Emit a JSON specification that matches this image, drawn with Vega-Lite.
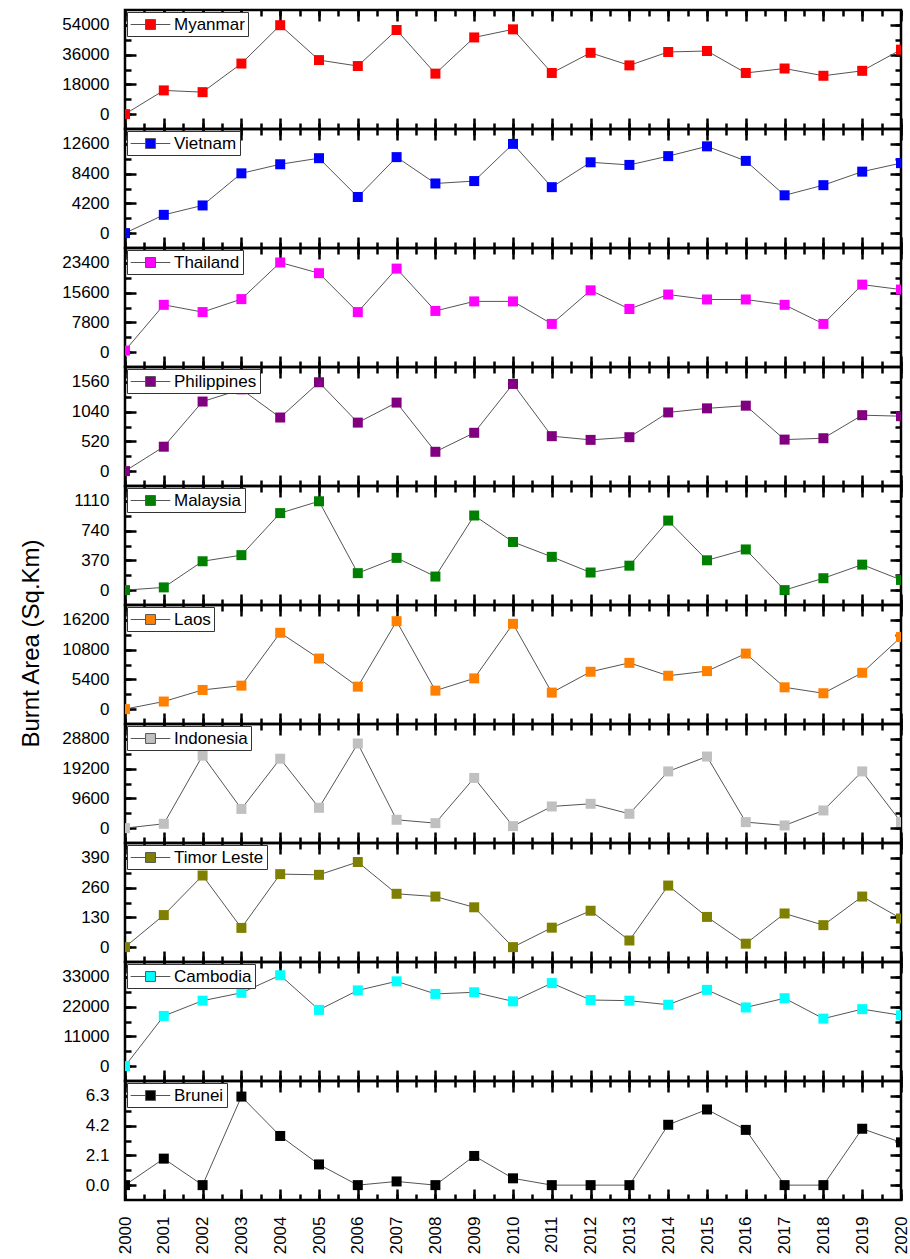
{
"$schema": "https://vega.github.io/schema/vega-lite/v6.json",
"padding": {"left": 18, "top": 7, "right": 5, "bottom": 4},
"autosize": {"type": "pad"},
"bounds": "flush",
"spacing": 0,
"data": {"values": [
{"country":"Myanmar","year":2000,"value":0},{"country":"Myanmar","year":2001,"value":14350},{"country":"Myanmar","year":2002,"value":13300},{"country":"Myanmar","year":2003,"value":30600},{"country":"Myanmar","year":2004,"value":53800},{"country":"Myanmar","year":2005,"value":32700},{"country":"Myanmar","year":2006,"value":29100},{"country":"Myanmar","year":2007,"value":50900},{"country":"Myanmar","year":2008,"value":24500},{"country":"Myanmar","year":2009,"value":46400},{"country":"Myanmar","year":2010,"value":51300},{"country":"Myanmar","year":2011,"value":24900},{"country":"Myanmar","year":2012,"value":37100},{"country":"Myanmar","year":2013,"value":29500},{"country":"Myanmar","year":2014,"value":37600},{"country":"Myanmar","year":2015,"value":38200},{"country":"Myanmar","year":2016,"value":24900},{"country":"Myanmar","year":2017,"value":27600},{"country":"Myanmar","year":2018,"value":23200},{"country":"Myanmar","year":2019,"value":26200},{"country":"Myanmar","year":2020,"value":39000},
{"country":"Vietnam","year":2000,"value":0},{"country":"Vietnam","year":2001,"value":2580},{"country":"Vietnam","year":2002,"value":3910},{"country":"Vietnam","year":2003,"value":8440},{"country":"Vietnam","year":2004,"value":9720},{"country":"Vietnam","year":2005,"value":10580},{"country":"Vietnam","year":2006,"value":5100},{"country":"Vietnam","year":2007,"value":10730},{"country":"Vietnam","year":2008,"value":7010},{"country":"Vietnam","year":2009,"value":7350},{"country":"Vietnam","year":2010,"value":12600},{"country":"Vietnam","year":2011,"value":6490},{"country":"Vietnam","year":2012,"value":10000},{"country":"Vietnam","year":2013,"value":9630},{"country":"Vietnam","year":2014,"value":10870},{"country":"Vietnam","year":2015,"value":12250},{"country":"Vietnam","year":2016,"value":10200},{"country":"Vietnam","year":2017,"value":5340},{"country":"Vietnam","year":2018,"value":6770},{"country":"Vietnam","year":2019,"value":8680},{"country":"Vietnam","year":2020,"value":9880},
{"country":"Thailand","year":2000,"value":400},{"country":"Thailand","year":2001,"value":12400},{"country":"Thailand","year":2002,"value":10500},{"country":"Thailand","year":2003,"value":13900},{"country":"Thailand","year":2004,"value":23500},{"country":"Thailand","year":2005,"value":20700},{"country":"Thailand","year":2006,"value":10500},{"country":"Thailand","year":2007,"value":21900},{"country":"Thailand","year":2008,"value":10800},{"country":"Thailand","year":2009,"value":13300},{"country":"Thailand","year":2010,"value":13300},{"country":"Thailand","year":2011,"value":7400},{"country":"Thailand","year":2012,"value":16200},{"country":"Thailand","year":2013,"value":11300},{"country":"Thailand","year":2014,"value":15100},{"country":"Thailand","year":2015,"value":13800},{"country":"Thailand","year":2016,"value":13800},{"country":"Thailand","year":2017,"value":12400},{"country":"Thailand","year":2018,"value":7400},{"country":"Thailand","year":2019,"value":17700},{"country":"Thailand","year":2020,"value":16400},
{"country":"Philippines","year":2000,"value":0},{"country":"Philippines","year":2001,"value":427},{"country":"Philippines","year":2002,"value":1216},{"country":"Philippines","year":2003,"value":1430},{"country":"Philippines","year":2004,"value":937},{"country":"Philippines","year":2005,"value":1553},{"country":"Philippines","year":2006,"value":848},{"country":"Philippines","year":2007,"value":1198},{"country":"Philippines","year":2008,"value":338},{"country":"Philippines","year":2009,"value":670},{"country":"Philippines","year":2010,"value":1524},{"country":"Philippines","year":2011,"value":611},{"country":"Philippines","year":2012,"value":546},{"country":"Philippines","year":2013,"value":593},{"country":"Philippines","year":2014,"value":1026},{"country":"Philippines","year":2015,"value":1097},{"country":"Philippines","year":2016,"value":1144},{"country":"Philippines","year":2017,"value":551},{"country":"Philippines","year":2018,"value":575},{"country":"Philippines","year":2019,"value":978},{"country":"Philippines","year":2020,"value":960},
{"country":"Malaysia","year":2000,"value":0},{"country":"Malaysia","year":2001,"value":34},{"country":"Malaysia","year":2002,"value":359},{"country":"Malaysia","year":2003,"value":435},{"country":"Malaysia","year":2004,"value":958},{"country":"Malaysia","year":2005,"value":1105},{"country":"Malaysia","year":2006,"value":211},{"country":"Malaysia","year":2007,"value":401},{"country":"Malaysia","year":2008,"value":169},{"country":"Malaysia","year":2009,"value":928},{"country":"Malaysia","year":2010,"value":599},{"country":"Malaysia","year":2011,"value":414},{"country":"Malaysia","year":2012,"value":219},{"country":"Malaysia","year":2013,"value":304},{"country":"Malaysia","year":2014,"value":865},{"country":"Malaysia","year":2015,"value":371},{"country":"Malaysia","year":2016,"value":506},{"country":"Malaysia","year":2017,"value":0},{"country":"Malaysia","year":2018,"value":148},{"country":"Malaysia","year":2019,"value":317},{"country":"Malaysia","year":2020,"value":127},
{"country":"Laos","year":2000,"value":0},{"country":"Laos","year":2001,"value":1380},{"country":"Laos","year":2002,"value":3480},{"country":"Laos","year":2003,"value":4260},{"country":"Laos","year":2004,"value":13860},{"country":"Laos","year":2005,"value":9180},{"country":"Laos","year":2006,"value":4080},{"country":"Laos","year":2007,"value":15960},{"country":"Laos","year":2008,"value":3360},{"country":"Laos","year":2009,"value":5580},{"country":"Laos","year":2010,"value":15480},{"country":"Laos","year":2011,"value":3000},{"country":"Laos","year":2012,"value":6780},{"country":"Laos","year":2013,"value":8400},{"country":"Laos","year":2014,"value":6060},{"country":"Laos","year":2015,"value":6900},{"country":"Laos","year":2016,"value":10080},{"country":"Laos","year":2017,"value":3960},{"country":"Laos","year":2018,"value":2880},{"country":"Laos","year":2019,"value":6600},{"country":"Laos","year":2020,"value":13080},
{"country":"Indonesia","year":2000,"value":0},{"country":"Indonesia","year":2001,"value":1400},{"country":"Indonesia","year":2002,"value":23400},{"country":"Indonesia","year":2003,"value":6200},{"country":"Indonesia","year":2004,"value":22400},{"country":"Indonesia","year":2005,"value":6560},{"country":"Indonesia","year":2006,"value":27300},{"country":"Indonesia","year":2007,"value":2690},{"country":"Indonesia","year":2008,"value":1610},{"country":"Indonesia","year":2009,"value":16200},{"country":"Indonesia","year":2010,"value":650},{"country":"Indonesia","year":2011,"value":6990},{"country":"Indonesia","year":2012,"value":7850},{"country":"Indonesia","year":2013,"value":4620},{"country":"Indonesia","year":2014,"value":18300},{"country":"Indonesia","year":2015,"value":23100},{"country":"Indonesia","year":2016,"value":1940},{"country":"Indonesia","year":2017,"value":860},{"country":"Indonesia","year":2018,"value":5700},{"country":"Indonesia","year":2019,"value":18300},{"country":"Indonesia","year":2020,"value":1940},
{"country":"Timor Leste","year":2000,"value":0},{"country":"Timor Leste","year":2001,"value":140},{"country":"Timor Leste","year":2002,"value":313},{"country":"Timor Leste","year":2003,"value":84},{"country":"Timor Leste","year":2004,"value":319},{"country":"Timor Leste","year":2005,"value":316},{"country":"Timor Leste","year":2006,"value":372},{"country":"Timor Leste","year":2007,"value":233},{"country":"Timor Leste","year":2008,"value":221},{"country":"Timor Leste","year":2009,"value":174},{"country":"Timor Leste","year":2010,"value":0},{"country":"Timor Leste","year":2011,"value":85},{"country":"Timor Leste","year":2012,"value":159},{"country":"Timor Leste","year":2013,"value":29},{"country":"Timor Leste","year":2014,"value":269},{"country":"Timor Leste","year":2015,"value":132},{"country":"Timor Leste","year":2016,"value":15},{"country":"Timor Leste","year":2017,"value":147},{"country":"Timor Leste","year":2018,"value":96},{"country":"Timor Leste","year":2019,"value":221},{"country":"Timor Leste","year":2020,"value":125},
{"country":"Cambodia","year":2000,"value":0},{"country":"Cambodia","year":2001,"value":18560},{"country":"Cambodia","year":2002,"value":24200},{"country":"Cambodia","year":2003,"value":27100},{"country":"Cambodia","year":2004,"value":33600},{"country":"Cambodia","year":2005,"value":20800},{"country":"Cambodia","year":2006,"value":28000},{"country":"Cambodia","year":2007,"value":31350},{"country":"Cambodia","year":2008,"value":26700},{"country":"Cambodia","year":2009,"value":27300},{"country":"Cambodia","year":2010,"value":23950},{"country":"Cambodia","year":2011,"value":30700},{"country":"Cambodia","year":2012,"value":24450},{"country":"Cambodia","year":2013,"value":24200},{"country":"Cambodia","year":2014,"value":22700},{"country":"Cambodia","year":2015,"value":28200},{"country":"Cambodia","year":2016,"value":21700},{"country":"Cambodia","year":2017,"value":25100},{"country":"Cambodia","year":2018,"value":17560},{"country":"Cambodia","year":2019,"value":21070},{"country":"Cambodia","year":2020,"value":18800},
{"country":"Brunei","year":2000,"value":0},{"country":"Brunei","year":2001,"value":1.87},{"country":"Brunei","year":2002,"value":0},{"country":"Brunei","year":2003,"value":6.25},{"country":"Brunei","year":2004,"value":3.47},{"country":"Brunei","year":2005,"value":1.46},{"country":"Brunei","year":2006,"value":0},{"country":"Brunei","year":2007,"value":0.26},{"country":"Brunei","year":2008,"value":0},{"country":"Brunei","year":2009,"value":2.06},{"country":"Brunei","year":2010,"value":0.48},{"country":"Brunei","year":2011,"value":0},{"country":"Brunei","year":2012,"value":0},{"country":"Brunei","year":2013,"value":0},{"country":"Brunei","year":2014,"value":4.26},{"country":"Brunei","year":2015,"value":5.34},{"country":"Brunei","year":2016,"value":3.9},{"country":"Brunei","year":2017,"value":0},{"country":"Brunei","year":2018,"value":0},{"country":"Brunei","year":2019,"value":3.98},{"country":"Brunei","year":2020,"value":3.02}
]},
"vconcat": [
{"width": 776, "height": 119, "transform": [{"filter": "datum.country === 'Myanmar'"}],
 "layer": [
  {"mark": {"type": "line", "color": "#555555", "strokeWidth": 1, "clip": true},
   "encoding": {
    "x": {"field": "year", "type": "quantitative", "scale": {"domain": [2000, 2020], "nice": false, "zero": false}, "axis": {"orient": "bottom", "tickCount": 20, "title": null, "ticks": true, "tickColor": "#000000", "tickWidth": 2.5}},
    "y": {"field": "value", "type": "quantitative", "scale": {"domain": [-9000, 63000], "nice": false, "zero": false}, "axis": {"orient": "left", "values": [0, 18000, 36000, 54000], "title": null, "labels": true, "format": "d", "ticks": true, "tickColor": "#000000", "tickWidth": 2.5}}}},
  {"mark": {"type": "point", "shape": "square", "filled": true, "size": 100, "opacity": 1, "clip": true},
   "encoding": {
    "x": {"field": "year", "type": "quantitative", "axis": {"orient": "top", "tickCount": 20, "title": null, "ticks": true, "tickColor": "#000000", "tickWidth": 2.5}},
    "y": {"field": "value", "type": "quantitative", "axis": {"orient": "right", "values": [0, 18000, 36000, 54000], "title": null, "ticks": true, "tickColor": "#000000", "tickWidth": 2.5}},
    "color": {"field": "country", "type": "nominal", "scale": {"domain": ["Myanmar"], "range": ["#ff0000"]}, "legend": {"title": null}}}},
  {"mark": {"type": "point", "opacity": 0},
   "encoding": {
    "x": {"field": "year", "type": "quantitative", "axis": {"orient": "bottom", "tickCount": 40, "title": null, "ticks": true, "tickColor": "#000000", "tickWidth": 2.5, "style": "minor"}},
    "y": {"field": "value", "type": "quantitative", "axis": {"orient": "left", "values": [0, 9000, 18000, 27000, 36000, 45000, 54000], "title": null, "ticks": true, "tickColor": "#000000", "tickWidth": 2.5, "style": "minor"}}}},
  {"mark": {"type": "point", "opacity": 0},
   "encoding": {
    "x": {"field": "year", "type": "quantitative", "axis": {"orient": "top", "tickCount": 40, "title": null, "ticks": true, "tickColor": "#000000", "tickWidth": 2.5, "style": "minor"}},
    "y": {"field": "value", "type": "quantitative", "axis": {"orient": "right", "values": [0, 9000, 18000, 27000, 36000, 45000, 54000], "title": null, "ticks": true, "tickColor": "#000000", "tickWidth": 2.5, "style": "minor"}}}}
 ],
 "resolve": {"axis": {"x": "independent", "y": "independent"}}
},
{"width": 776, "height": 119, "transform": [{"filter": "datum.country === 'Vietnam'"}],
 "layer": [
  {"mark": {"type": "line", "color": "#555555", "strokeWidth": 1, "clip": true},
   "encoding": {
    "x": {"field": "year", "type": "quantitative", "scale": {"domain": [2000, 2020], "nice": false, "zero": false}, "axis": {"orient": "bottom", "tickCount": 20, "title": null, "ticks": true, "tickColor": "#000000", "tickWidth": 2.5}},
    "y": {"field": "value", "type": "quantitative", "scale": {"domain": [-2100, 14700], "nice": false, "zero": false}, "axis": {"orient": "left", "values": [0, 4200, 8400, 12600], "title": null, "labels": true, "format": "d", "ticks": true, "tickColor": "#000000", "tickWidth": 2.5}}}},
  {"mark": {"type": "point", "shape": "square", "filled": true, "size": 100, "opacity": 1, "clip": true},
   "encoding": {
    "x": {"field": "year", "type": "quantitative", "axis": {"orient": "top", "tickCount": 20, "title": null, "ticks": true, "tickColor": "#000000", "tickWidth": 2.5}},
    "y": {"field": "value", "type": "quantitative", "axis": {"orient": "right", "values": [0, 4200, 8400, 12600], "title": null, "ticks": true, "tickColor": "#000000", "tickWidth": 2.5}},
    "color": {"field": "country", "type": "nominal", "scale": {"domain": ["Vietnam"], "range": ["#0000ff"]}, "legend": {"title": null}}}},
  {"mark": {"type": "point", "opacity": 0},
   "encoding": {
    "x": {"field": "year", "type": "quantitative", "axis": {"orient": "bottom", "tickCount": 40, "title": null, "ticks": true, "tickColor": "#000000", "tickWidth": 2.5, "style": "minor"}},
    "y": {"field": "value", "type": "quantitative", "axis": {"orient": "left", "values": [0, 2100, 4200, 6300, 8400, 10500, 12600], "title": null, "ticks": true, "tickColor": "#000000", "tickWidth": 2.5, "style": "minor"}}}},
  {"mark": {"type": "point", "opacity": 0},
   "encoding": {
    "x": {"field": "year", "type": "quantitative", "axis": {"orient": "top", "tickCount": 40, "title": null, "ticks": true, "tickColor": "#000000", "tickWidth": 2.5, "style": "minor"}},
    "y": {"field": "value", "type": "quantitative", "axis": {"orient": "right", "values": [0, 2100, 4200, 6300, 8400, 10500, 12600], "title": null, "ticks": true, "tickColor": "#000000", "tickWidth": 2.5, "style": "minor"}}}}
 ],
 "resolve": {"axis": {"x": "independent", "y": "independent"}}
},
{"width": 776, "height": 119, "transform": [{"filter": "datum.country === 'Thailand'"}],
 "layer": [
  {"mark": {"type": "line", "color": "#555555", "strokeWidth": 1, "clip": true},
   "encoding": {
    "x": {"field": "year", "type": "quantitative", "scale": {"domain": [2000, 2020], "nice": false, "zero": false}, "axis": {"orient": "bottom", "tickCount": 20, "title": null, "ticks": true, "tickColor": "#000000", "tickWidth": 2.5}},
    "y": {"field": "value", "type": "quantitative", "scale": {"domain": [-3900, 27300], "nice": false, "zero": false}, "axis": {"orient": "left", "values": [0, 7800, 15600, 23400], "title": null, "labels": true, "format": "d", "ticks": true, "tickColor": "#000000", "tickWidth": 2.5}}}},
  {"mark": {"type": "point", "shape": "square", "filled": true, "size": 100, "opacity": 1, "clip": true},
   "encoding": {
    "x": {"field": "year", "type": "quantitative", "axis": {"orient": "top", "tickCount": 20, "title": null, "ticks": true, "tickColor": "#000000", "tickWidth": 2.5}},
    "y": {"field": "value", "type": "quantitative", "axis": {"orient": "right", "values": [0, 7800, 15600, 23400], "title": null, "ticks": true, "tickColor": "#000000", "tickWidth": 2.5}},
    "color": {"field": "country", "type": "nominal", "scale": {"domain": ["Thailand"], "range": ["#ff00ff"]}, "legend": {"title": null}}}},
  {"mark": {"type": "point", "opacity": 0},
   "encoding": {
    "x": {"field": "year", "type": "quantitative", "axis": {"orient": "bottom", "tickCount": 40, "title": null, "ticks": true, "tickColor": "#000000", "tickWidth": 2.5, "style": "minor"}},
    "y": {"field": "value", "type": "quantitative", "axis": {"orient": "left", "values": [0, 3900, 7800, 11700, 15600, 19500, 23400], "title": null, "ticks": true, "tickColor": "#000000", "tickWidth": 2.5, "style": "minor"}}}},
  {"mark": {"type": "point", "opacity": 0},
   "encoding": {
    "x": {"field": "year", "type": "quantitative", "axis": {"orient": "top", "tickCount": 40, "title": null, "ticks": true, "tickColor": "#000000", "tickWidth": 2.5, "style": "minor"}},
    "y": {"field": "value", "type": "quantitative", "axis": {"orient": "right", "values": [0, 3900, 7800, 11700, 15600, 19500, 23400], "title": null, "ticks": true, "tickColor": "#000000", "tickWidth": 2.5, "style": "minor"}}}}
 ],
 "resolve": {"axis": {"x": "independent", "y": "independent"}}
},
{"width": 776, "height": 119, "transform": [{"filter": "datum.country === 'Philippines'"}],
 "layer": [
  {"mark": {"type": "line", "color": "#555555", "strokeWidth": 1, "clip": true},
   "encoding": {
    "x": {"field": "year", "type": "quantitative", "scale": {"domain": [2000, 2020], "nice": false, "zero": false}, "axis": {"orient": "bottom", "tickCount": 20, "title": null, "ticks": true, "tickColor": "#000000", "tickWidth": 2.5}},
    "y": {"field": "value", "type": "quantitative", "scale": {"domain": [-260, 1820], "nice": false, "zero": false}, "axis": {"orient": "left", "values": [0, 520, 1040, 1560], "title": null, "labels": true, "format": "d", "ticks": true, "tickColor": "#000000", "tickWidth": 2.5}}}},
  {"mark": {"type": "point", "shape": "square", "filled": true, "size": 100, "opacity": 1, "clip": true},
   "encoding": {
    "x": {"field": "year", "type": "quantitative", "axis": {"orient": "top", "tickCount": 20, "title": null, "ticks": true, "tickColor": "#000000", "tickWidth": 2.5}},
    "y": {"field": "value", "type": "quantitative", "axis": {"orient": "right", "values": [0, 520, 1040, 1560], "title": null, "ticks": true, "tickColor": "#000000", "tickWidth": 2.5}},
    "color": {"field": "country", "type": "nominal", "scale": {"domain": ["Philippines"], "range": ["#800080"]}, "legend": {"title": null}}}},
  {"mark": {"type": "point", "opacity": 0},
   "encoding": {
    "x": {"field": "year", "type": "quantitative", "axis": {"orient": "bottom", "tickCount": 40, "title": null, "ticks": true, "tickColor": "#000000", "tickWidth": 2.5, "style": "minor"}},
    "y": {"field": "value", "type": "quantitative", "axis": {"orient": "left", "values": [0, 260, 520, 780, 1040, 1300, 1560], "title": null, "ticks": true, "tickColor": "#000000", "tickWidth": 2.5, "style": "minor"}}}},
  {"mark": {"type": "point", "opacity": 0},
   "encoding": {
    "x": {"field": "year", "type": "quantitative", "axis": {"orient": "top", "tickCount": 40, "title": null, "ticks": true, "tickColor": "#000000", "tickWidth": 2.5, "style": "minor"}},
    "y": {"field": "value", "type": "quantitative", "axis": {"orient": "right", "values": [0, 260, 520, 780, 1040, 1300, 1560], "title": null, "ticks": true, "tickColor": "#000000", "tickWidth": 2.5, "style": "minor"}}}}
 ],
 "resolve": {"axis": {"x": "independent", "y": "independent"}}
},
{"width": 776, "height": 119, "transform": [{"filter": "datum.country === 'Malaysia'"}],
 "layer": [
  {"mark": {"type": "line", "color": "#555555", "strokeWidth": 1, "clip": true},
   "encoding": {
    "x": {"field": "year", "type": "quantitative", "scale": {"domain": [2000, 2020], "nice": false, "zero": false}, "axis": {"orient": "bottom", "tickCount": 20, "title": null, "ticks": true, "tickColor": "#000000", "tickWidth": 2.5}},
    "y": {"field": "value", "type": "quantitative", "scale": {"domain": [-185, 1295], "nice": false, "zero": false}, "axis": {"orient": "left", "values": [0, 370, 740, 1110], "title": null, "labels": true, "format": "d", "ticks": true, "tickColor": "#000000", "tickWidth": 2.5}}}},
  {"mark": {"type": "point", "shape": "square", "filled": true, "size": 100, "opacity": 1, "clip": true},
   "encoding": {
    "x": {"field": "year", "type": "quantitative", "axis": {"orient": "top", "tickCount": 20, "title": null, "ticks": true, "tickColor": "#000000", "tickWidth": 2.5}},
    "y": {"field": "value", "type": "quantitative", "axis": {"orient": "right", "values": [0, 370, 740, 1110], "title": null, "ticks": true, "tickColor": "#000000", "tickWidth": 2.5}},
    "color": {"field": "country", "type": "nominal", "scale": {"domain": ["Malaysia"], "range": ["#008000"]}, "legend": {"title": null}}}},
  {"mark": {"type": "point", "opacity": 0},
   "encoding": {
    "x": {"field": "year", "type": "quantitative", "axis": {"orient": "bottom", "tickCount": 40, "title": null, "ticks": true, "tickColor": "#000000", "tickWidth": 2.5, "style": "minor"}},
    "y": {"field": "value", "type": "quantitative", "axis": {"orient": "left", "values": [0, 185, 370, 555, 740, 925, 1110], "title": null, "ticks": true, "tickColor": "#000000", "tickWidth": 2.5, "style": "minor"}}}},
  {"mark": {"type": "point", "opacity": 0},
   "encoding": {
    "x": {"field": "year", "type": "quantitative", "axis": {"orient": "top", "tickCount": 40, "title": null, "ticks": true, "tickColor": "#000000", "tickWidth": 2.5, "style": "minor"}},
    "y": {"field": "value", "type": "quantitative", "axis": {"orient": "right", "values": [0, 185, 370, 555, 740, 925, 1110], "title": null, "ticks": true, "tickColor": "#000000", "tickWidth": 2.5, "style": "minor"}}}}
 ],
 "resolve": {"axis": {"x": "independent", "y": "independent"}}
},
{"width": 776, "height": 119, "transform": [{"filter": "datum.country === 'Laos'"}],
 "layer": [
  {"mark": {"type": "line", "color": "#555555", "strokeWidth": 1, "clip": true},
   "encoding": {
    "x": {"field": "year", "type": "quantitative", "scale": {"domain": [2000, 2020], "nice": false, "zero": false}, "axis": {"orient": "bottom", "tickCount": 20, "title": null, "ticks": true, "tickColor": "#000000", "tickWidth": 2.5}},
    "y": {"field": "value", "type": "quantitative", "scale": {"domain": [-2700, 18900], "nice": false, "zero": false}, "axis": {"orient": "left", "values": [0, 5400, 10800, 16200], "labels": true, "format": "d", "ticks": true, "tickColor": "#000000", "tickWidth": 2.5, "title": "Burnt Area (Sq.Km)", "titleY": 38, "titleFontSize": 24, "titleFontWeight": "normal", "titlePadding": 18}}}},
  {"mark": {"type": "point", "shape": "square", "filled": true, "size": 100, "opacity": 1, "clip": true},
   "encoding": {
    "x": {"field": "year", "type": "quantitative", "axis": {"orient": "top", "tickCount": 20, "title": null, "ticks": true, "tickColor": "#000000", "tickWidth": 2.5}},
    "y": {"field": "value", "type": "quantitative", "axis": {"orient": "right", "values": [0, 5400, 10800, 16200], "title": null, "ticks": true, "tickColor": "#000000", "tickWidth": 2.5}},
    "color": {"field": "country", "type": "nominal", "scale": {"domain": ["Laos"], "range": ["#ff8000"]}, "legend": {"title": null}}}},
  {"mark": {"type": "point", "opacity": 0},
   "encoding": {
    "x": {"field": "year", "type": "quantitative", "axis": {"orient": "bottom", "tickCount": 40, "title": null, "ticks": true, "tickColor": "#000000", "tickWidth": 2.5, "style": "minor"}},
    "y": {"field": "value", "type": "quantitative", "axis": {"orient": "left", "values": [0, 2700, 5400, 8100, 10800, 13500, 16200], "title": null, "ticks": true, "tickColor": "#000000", "tickWidth": 2.5, "style": "minor"}}}},
  {"mark": {"type": "point", "opacity": 0},
   "encoding": {
    "x": {"field": "year", "type": "quantitative", "axis": {"orient": "top", "tickCount": 40, "title": null, "ticks": true, "tickColor": "#000000", "tickWidth": 2.5, "style": "minor"}},
    "y": {"field": "value", "type": "quantitative", "axis": {"orient": "right", "values": [0, 2700, 5400, 8100, 10800, 13500, 16200], "title": null, "ticks": true, "tickColor": "#000000", "tickWidth": 2.5, "style": "minor"}}}}
 ],
 "resolve": {"axis": {"x": "independent", "y": "independent"}}
},
{"width": 776, "height": 119, "transform": [{"filter": "datum.country === 'Indonesia'"}],
 "layer": [
  {"mark": {"type": "line", "color": "#555555", "strokeWidth": 1, "clip": true},
   "encoding": {
    "x": {"field": "year", "type": "quantitative", "scale": {"domain": [2000, 2020], "nice": false, "zero": false}, "axis": {"orient": "bottom", "tickCount": 20, "title": null, "ticks": true, "tickColor": "#000000", "tickWidth": 2.5}},
    "y": {"field": "value", "type": "quantitative", "scale": {"domain": [-4800, 33600], "nice": false, "zero": false}, "axis": {"orient": "left", "values": [0, 9600, 19200, 28800], "title": null, "labels": true, "format": "d", "ticks": true, "tickColor": "#000000", "tickWidth": 2.5}}}},
  {"mark": {"type": "point", "shape": "square", "filled": true, "size": 100, "opacity": 1, "clip": true},
   "encoding": {
    "x": {"field": "year", "type": "quantitative", "axis": {"orient": "top", "tickCount": 20, "title": null, "ticks": true, "tickColor": "#000000", "tickWidth": 2.5}},
    "y": {"field": "value", "type": "quantitative", "axis": {"orient": "right", "values": [0, 9600, 19200, 28800], "title": null, "ticks": true, "tickColor": "#000000", "tickWidth": 2.5}},
    "color": {"field": "country", "type": "nominal", "scale": {"domain": ["Indonesia"], "range": ["#c0c0c0"]}, "legend": {"title": null}}}},
  {"mark": {"type": "point", "opacity": 0},
   "encoding": {
    "x": {"field": "year", "type": "quantitative", "axis": {"orient": "bottom", "tickCount": 40, "title": null, "ticks": true, "tickColor": "#000000", "tickWidth": 2.5, "style": "minor"}},
    "y": {"field": "value", "type": "quantitative", "axis": {"orient": "left", "values": [0, 4800, 9600, 14400, 19200, 24000, 28800], "title": null, "ticks": true, "tickColor": "#000000", "tickWidth": 2.5, "style": "minor"}}}},
  {"mark": {"type": "point", "opacity": 0},
   "encoding": {
    "x": {"field": "year", "type": "quantitative", "axis": {"orient": "top", "tickCount": 40, "title": null, "ticks": true, "tickColor": "#000000", "tickWidth": 2.5, "style": "minor"}},
    "y": {"field": "value", "type": "quantitative", "axis": {"orient": "right", "values": [0, 4800, 9600, 14400, 19200, 24000, 28800], "title": null, "ticks": true, "tickColor": "#000000", "tickWidth": 2.5, "style": "minor"}}}}
 ],
 "resolve": {"axis": {"x": "independent", "y": "independent"}}
},
{"width": 776, "height": 119, "transform": [{"filter": "datum.country === 'Timor Leste'"}],
 "layer": [
  {"mark": {"type": "line", "color": "#555555", "strokeWidth": 1, "clip": true},
   "encoding": {
    "x": {"field": "year", "type": "quantitative", "scale": {"domain": [2000, 2020], "nice": false, "zero": false}, "axis": {"orient": "bottom", "tickCount": 20, "title": null, "ticks": true, "tickColor": "#000000", "tickWidth": 2.5}},
    "y": {"field": "value", "type": "quantitative", "scale": {"domain": [-65, 455], "nice": false, "zero": false}, "axis": {"orient": "left", "values": [0, 130, 260, 390], "title": null, "labels": true, "format": "d", "ticks": true, "tickColor": "#000000", "tickWidth": 2.5}}}},
  {"mark": {"type": "point", "shape": "square", "filled": true, "size": 100, "opacity": 1, "clip": true},
   "encoding": {
    "x": {"field": "year", "type": "quantitative", "axis": {"orient": "top", "tickCount": 20, "title": null, "ticks": true, "tickColor": "#000000", "tickWidth": 2.5}},
    "y": {"field": "value", "type": "quantitative", "axis": {"orient": "right", "values": [0, 130, 260, 390], "title": null, "ticks": true, "tickColor": "#000000", "tickWidth": 2.5}},
    "color": {"field": "country", "type": "nominal", "scale": {"domain": ["Timor Leste"], "range": ["#808000"]}, "legend": {"title": null}}}},
  {"mark": {"type": "point", "opacity": 0},
   "encoding": {
    "x": {"field": "year", "type": "quantitative", "axis": {"orient": "bottom", "tickCount": 40, "title": null, "ticks": true, "tickColor": "#000000", "tickWidth": 2.5, "style": "minor"}},
    "y": {"field": "value", "type": "quantitative", "axis": {"orient": "left", "values": [0, 65, 130, 195, 260, 325, 390], "title": null, "ticks": true, "tickColor": "#000000", "tickWidth": 2.5, "style": "minor"}}}},
  {"mark": {"type": "point", "opacity": 0},
   "encoding": {
    "x": {"field": "year", "type": "quantitative", "axis": {"orient": "top", "tickCount": 40, "title": null, "ticks": true, "tickColor": "#000000", "tickWidth": 2.5, "style": "minor"}},
    "y": {"field": "value", "type": "quantitative", "axis": {"orient": "right", "values": [0, 65, 130, 195, 260, 325, 390], "title": null, "ticks": true, "tickColor": "#000000", "tickWidth": 2.5, "style": "minor"}}}}
 ],
 "resolve": {"axis": {"x": "independent", "y": "independent"}}
},
{"width": 776, "height": 119, "transform": [{"filter": "datum.country === 'Cambodia'"}],
 "layer": [
  {"mark": {"type": "line", "color": "#555555", "strokeWidth": 1, "clip": true},
   "encoding": {
    "x": {"field": "year", "type": "quantitative", "scale": {"domain": [2000, 2020], "nice": false, "zero": false}, "axis": {"orient": "bottom", "tickCount": 20, "title": null, "ticks": true, "tickColor": "#000000", "tickWidth": 2.5}},
    "y": {"field": "value", "type": "quantitative", "scale": {"domain": [-5500, 38500], "nice": false, "zero": false}, "axis": {"orient": "left", "values": [0, 11000, 22000, 33000], "title": null, "labels": true, "format": "d", "ticks": true, "tickColor": "#000000", "tickWidth": 2.5}}}},
  {"mark": {"type": "point", "shape": "square", "filled": true, "size": 100, "opacity": 1, "clip": true},
   "encoding": {
    "x": {"field": "year", "type": "quantitative", "axis": {"orient": "top", "tickCount": 20, "title": null, "ticks": true, "tickColor": "#000000", "tickWidth": 2.5}},
    "y": {"field": "value", "type": "quantitative", "axis": {"orient": "right", "values": [0, 11000, 22000, 33000], "title": null, "ticks": true, "tickColor": "#000000", "tickWidth": 2.5}},
    "color": {"field": "country", "type": "nominal", "scale": {"domain": ["Cambodia"], "range": ["#00ffff"]}, "legend": {"title": null}}}},
  {"mark": {"type": "point", "opacity": 0},
   "encoding": {
    "x": {"field": "year", "type": "quantitative", "axis": {"orient": "bottom", "tickCount": 40, "title": null, "ticks": true, "tickColor": "#000000", "tickWidth": 2.5, "style": "minor"}},
    "y": {"field": "value", "type": "quantitative", "axis": {"orient": "left", "values": [0, 5500, 11000, 16500, 22000, 27500, 33000], "title": null, "ticks": true, "tickColor": "#000000", "tickWidth": 2.5, "style": "minor"}}}},
  {"mark": {"type": "point", "opacity": 0},
   "encoding": {
    "x": {"field": "year", "type": "quantitative", "axis": {"orient": "top", "tickCount": 40, "title": null, "ticks": true, "tickColor": "#000000", "tickWidth": 2.5, "style": "minor"}},
    "y": {"field": "value", "type": "quantitative", "axis": {"orient": "right", "values": [0, 5500, 11000, 16500, 22000, 27500, 33000], "title": null, "ticks": true, "tickColor": "#000000", "tickWidth": 2.5, "style": "minor"}}}}
 ],
 "resolve": {"axis": {"x": "independent", "y": "independent"}}
},
{"width": 776, "height": 119, "transform": [{"filter": "datum.country === 'Brunei'"}],
 "layer": [
  {"mark": {"type": "line", "color": "#555555", "strokeWidth": 1, "clip": true},
   "encoding": {
    "x": {"field": "year", "type": "quantitative", "scale": {"domain": [2000, 2020], "nice": false, "zero": false}, "axis": {"orient": "bottom", "tickCount": 20, "title": null, "labels": true, "format": "d", "labelAngle": 270, "ticks": true, "tickColor": "#000000", "tickWidth": 2.5}},
    "y": {"field": "value", "type": "quantitative", "scale": {"domain": [-1.05, 7.35], "nice": false, "zero": false}, "axis": {"orient": "left", "values": [0, 2.1, 4.2, 6.3], "title": null, "labels": true, "format": ".1f", "ticks": true, "tickColor": "#000000", "tickWidth": 2.5}}}},
  {"mark": {"type": "point", "shape": "square", "filled": true, "size": 100, "opacity": 1, "clip": true},
   "encoding": {
    "x": {"field": "year", "type": "quantitative", "axis": {"orient": "top", "tickCount": 20, "title": null, "ticks": true, "tickColor": "#000000", "tickWidth": 2.5}},
    "y": {"field": "value", "type": "quantitative", "axis": {"orient": "right", "values": [0, 2.1, 4.2, 6.3], "title": null, "ticks": true, "tickColor": "#000000", "tickWidth": 2.5}},
    "color": {"field": "country", "type": "nominal", "scale": {"domain": ["Brunei"], "range": ["#000000"]}, "legend": {"title": null}}}},
  {"mark": {"type": "point", "opacity": 0},
   "encoding": {
    "x": {"field": "year", "type": "quantitative", "axis": {"orient": "bottom", "tickCount": 40, "title": null, "ticks": true, "tickColor": "#000000", "tickWidth": 2.5, "style": "minor"}},
    "y": {"field": "value", "type": "quantitative", "axis": {"orient": "left", "values": [0, 1.05, 2.1, 3.15, 4.2, 5.25, 6.3], "title": null, "ticks": true, "tickColor": "#000000", "tickWidth": 2.5, "style": "minor"}}}},
  {"mark": {"type": "point", "opacity": 0},
   "encoding": {
    "x": {"field": "year", "type": "quantitative", "axis": {"orient": "top", "tickCount": 40, "title": null, "ticks": true, "tickColor": "#000000", "tickWidth": 2.5, "style": "minor"}},
    "y": {"field": "value", "type": "quantitative", "axis": {"orient": "right", "values": [0, 1.05, 2.1, 3.15, 4.2, 5.25, 6.3], "title": null, "ticks": true, "tickColor": "#000000", "tickWidth": 2.5, "style": "minor"}}}}
 ],
 "resolve": {"axis": {"x": "independent", "y": "independent"}}
}
],
"resolve": {"scale": {"y": "independent", "color": "independent"}, "legend": {"color": "independent"}},
"config": {
 "font": "Liberation Sans",
 "view": {"stroke": "#000000", "strokeWidth": 2.5},
 "style": {"minor": {"tickSize": 6, "offset": -6}},
 "axis": {"domain": false, "grid": false, "labels": false, "ticks": true, "tickSize": 11, "offset": -11, "tickColor": "#000000", "tickOpacity": 1, "tickWidth": 2.5, "labelColor": "#000000", "labelFontSize": 17, "labelPadding": 16, "labelOverlap": false, "labelFlush": false, "labelBound": false, "titleColor": "#000000", "titleFont": "Liberation Sans"},
 "legend": {"orient": "top-left", "offset": 2, "padding": 3, "strokeColor": "#333333", "fillColor": "#ffffff", "symbolType": "M-2.2,0H-0.55M0.55,0H2.2M-0.55,-0.55H0.55V0.55H-0.55Z", "symbolSize": 324, "symbolStrokeColor": "#555555", "symbolStrokeWidth": 1, "symbolOffset": 11, "labelOffset": 14, "labelFontSize": 17, "labelColor": "#000000", "labelFont": "Liberation Sans", "cornerRadius": 0}
}
}
